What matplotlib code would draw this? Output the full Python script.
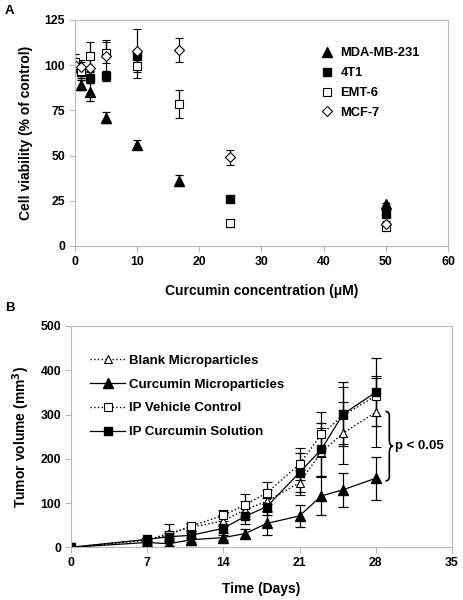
import numpy as np
import matplotlib
matplotlib.use('Agg')
import matplotlib.pyplot as plt
from matplotlib.path import Path
from matplotlib.patches import PathPatch
from matplotlib.lines import Line2D

plt.rcParams['font.family'] = ['Liberation Sans', 'DejaVu Sans']
plt.rcParams['font.weight'] = 'bold'

# Panel A data: cell viability vs curcumin concentration
mda_conc = [1, 2.5, 5, 10, 16.7, 50]
mda_val = [89, 85, 71, 56, 36, 23]
mda_err = [3, 5, 3, 2.5, 3, 1]

t41_conc = [0, 1, 2.5, 5, 10, 25, 50]
t41_val = [100, 96, 93, 94, 105, 26, 17.5]
t41_err = [3, 3, 3, 3, 2, 1, 1]

emt_conc = [0, 1, 2.5, 5, 10, 16.7, 25, 50]
emt_val = [102, 97, 105, 107, 99.5, 78.5, 12.5, 10.5]
emt_err = [4, 5, 8, 6, 6.5, 7.5, 2, 2]

mcf_conc = [0, 1, 2.5, 5, 10, 16.7, 25, 50]
mcf_val = [100, 99, 98.5, 105, 108, 108.5, 49, 12]
mcf_err = [4, 4, 5, 9, 12, 6.5, 4, 2]

# Panel B data: tumor volume over time
days = [0, 7, 9, 11, 14, 16, 18, 21, 23, 25, 28]
blank_mp = [0, 16, 32, 45, 60, 85, 104, 146, 215, 258, 305]
blank_err = [0, 5, 20, 8, 12, 20, 25, 28, 55, 70, 78]
curc_mp = [0, 11, 8, 17, 22, 31, 54, 71, 116, 130, 156]
curc_err = [0, 4, 6, 5, 6, 10, 27, 25, 42, 38, 49]
ip_vehicle = [0, 17, 28, 48, 72, 96, 123, 188, 255, 298, 342]
vehicle_err = [0, 5, 8, 8, 12, 25, 25, 37, 50, 65, 45]
ip_curc = [0, 18, 24, 27, 43, 70, 92, 169, 221, 301, 350]
ip_curc_err = [0, 4, 8, 6, 10, 18, 20, 45, 60, 73, 77]

fig = plt.figure(figsize=(4.63, 6.0), dpi=100)

grey = '#b8b8b8'


def style_axes(ax):
    for s in ax.spines.values():
        s.set_color(grey)
        s.set_linewidth(0.8)
    ax.tick_params(direction='out', length=4, width=0.8, color=grey,
                   labelsize=8.8, pad=3)
    for lab in ax.get_xticklabels() + ax.get_yticklabels():
        lab.set_fontweight('bold')


# ---- Panel A ----
axA = fig.add_axes([0.1613, 0.59, 0.8063, 0.3767])
ek = dict(ecolor='black', elinewidth=0.9, capsize=3, capthick=0.9, linestyle='none')
styleA = [
    (mda_conc, mda_val, mda_err, 'MDA-MB-231', dict(marker='^', ms=6.5, mfc='black', mec='black')),
    (t41_conc, t41_val, t41_err, '4T1', dict(marker='s', ms=5.5, mfc='black', mec='black')),
    (emt_conc, emt_val, emt_err, 'EMT-6', dict(marker='s', ms=5.5, mfc='white', mec='black', mew=0.8)),
    (mcf_conc, mcf_val, mcf_err, 'MCF-7', dict(marker='D', ms=4.6, mfc='white', mec='black', mew=0.8)),
]
handlesA = []
for xs, ys, es, name, mk in styleA:
    axA.errorbar(xs, ys, yerr=es, **mk, **ek)
    handlesA.append(Line2D([], [], linestyle='none', label=name, **mk))
axA.set_xlim(0, 60)
axA.set_ylim(0, 125)
axA.set_xticks(range(0, 61, 10))
axA.set_yticks(range(0, 126, 25))
style_axes(axA)
axA.set_xlabel('Curcumin concentration (\u03bcM)', fontsize=10, fontweight='bold', labelpad=12)
axA.set_ylabel('Cell viability (% of control)', fontsize=10, fontweight='bold', labelpad=8)
axA.legend(handles=handlesA, loc='upper left', bbox_to_anchor=(0.625, 0.93), frameon=False,
           fontsize=9.3, handletextpad=0.4, labelspacing=0.6, handlelength=1.2)
fig.text(0.01, 0.992, 'A', fontsize=9.5, fontweight='bold', va='top')

# ---- Panel B ----
axB = fig.add_axes([0.1533, 0.0878, 0.8227, 0.3689])
styleB = [
    (blank_mp, blank_err, 'Blank Microparticles',
     dict(marker='^', ms=6, mfc='white', mec='black', mew=0.8, color='black', linestyle=':', lw=1)),
    (curc_mp, curc_err, 'Curcumin Microparticles',
     dict(marker='^', ms=6.5, mfc='black', mec='black', color='black', linestyle='-', lw=0.9)),
    (ip_vehicle, vehicle_err, 'IP Vehicle Control',
     dict(marker='s', ms=5.5, mfc='white', mec='black', mew=0.8, color='black', linestyle=':', lw=1)),
    (ip_curc, ip_curc_err, 'IP Curcumin Solution',
     dict(marker='s', ms=6, mfc='black', mec='black', color='black', linestyle='-', lw=0.9)),
]
handlesB = []
for ys, es, name, st in styleB:
    axB.errorbar(days, ys, yerr=es, ecolor='black', elinewidth=0.9, capsize=3.5,
                 capthick=0.9, **st)
    handlesB.append(Line2D([], [], label=name, **st))
axB.set_xlim(0, 35)
axB.set_ylim(0, 500)
axB.set_xticks(range(0, 36, 7))
axB.set_yticks(range(0, 501, 100))
style_axes(axB)
axB.set_xlabel('Time (Days)', fontsize=10, fontweight='bold', labelpad=9)
axB.set_ylabel('Tumor volume (mm$^\\mathbf{3}$)', fontsize=10, fontweight='bold', labelpad=6)
axB.legend(handles=handlesB, loc='upper left', bbox_to_anchor=(0.02, 0.925), frameon=False,
           fontsize=9.5, handletextpad=0.3, labelspacing=0.88, handlelength=2.6)
fig.text(0.01, 0.497, 'B', fontsize=9.5, fontweight='bold', va='top')

# curly brace marking the significant difference at day 28
x0, y_lo, y_hi = 28.9, 150, 307
w = 0.7
ym = (y_lo + y_hi) / 2
verts = [(x0, y_hi), (x0 + w * 0.6, y_hi), (x0 + w * 0.5, y_hi - 15),
         (x0 + w * 0.5, ym + 15), (x0 + w * 0.5, ym), (x0 + w, ym),
         (x0 + w * 0.5, ym), (x0 + w * 0.5, ym - 15),
         (x0 + w * 0.5, y_lo + 15), (x0 + w * 0.6, y_lo), (x0, y_lo)]
codes = [Path.MOVETO, Path.CURVE3, Path.CURVE3, Path.LINETO, Path.CURVE3, Path.CURVE3,
         Path.CURVE3, Path.CURVE3, Path.LINETO, Path.CURVE3, Path.CURVE3]
axB.add_patch(PathPatch(Path(verts, codes), fill=False, lw=1.2, color='black'))
axB.text(x0 + w + 0.15, ym, 'p < 0.05', fontsize=9.5, fontweight='bold', va='center', ha='left')

fig.savefig('out.png', dpi=100)
